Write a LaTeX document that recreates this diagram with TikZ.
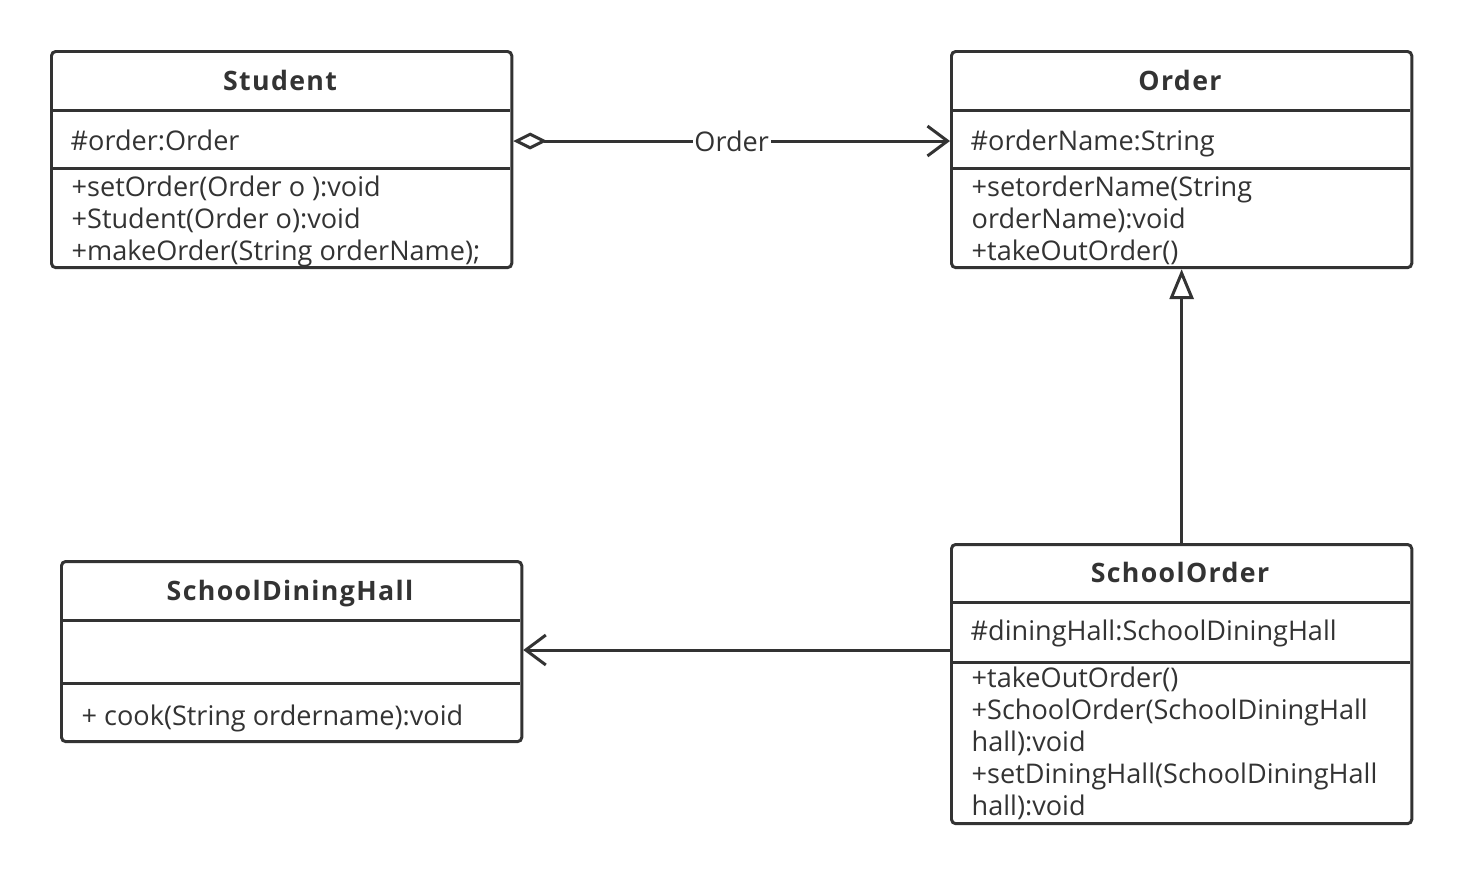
\documentclass[tikz,border=0pt]{standalone}
\usepackage{fontspec}
\setmainfont{Open Sans}
\newfontfamily\titlefont[LetterSpace=5]{Open Sans}
\usetikzlibrary{arrows.meta}

\definecolor{umlline}{HTML}{333333}

\tikzset{
  classbox/.style={draw=umlline, line width=0.85pt, rounded corners=1.2pt,
    inner sep=0pt, anchor=north west},
  divider/.style={draw=umlline, line width=0.85pt},
  classname/.style={font=\titlefont\bfseries\fontsize{7.6}{9}\selectfont,
    text=umlline, anchor=base, inner sep=0pt},
  member/.style={font=\fontsize{7.7}{9}\selectfont, text=umlline,
    anchor=base west, inner sep=0pt},
  link/.style={draw=umlline, line width=0.85pt},
}

\begin{document}
\begin{tikzpicture}[x=0.01cm, y=-0.01cm]
  \fill[white] (0,0) rectangle (1460,872);
  \useasboundingbox (0,0) rectangle (1460,872);

  % Student
  \node[classbox, minimum width=4.6cm, minimum height=2.16cm] (student) at (50,50) {};
  \draw[divider] (50,110) -- (510,110);
  \draw[divider] (50,168) -- (510,168);
  \node[classname] (student-name) at (280,90) {Student};
  \node[member] (student-attr) at (70,150) {\#order:Order};
  \foreach \txt [count=\i] in {+setOrder(Order o ):void, +Student(Order o):void,
      +makeOrder(String orderName);}
    \node[member] (student-op\i) at (71,196+32*\i-32) {\txt};

  % Order
  \node[classbox, minimum width=4.6cm, minimum height=2.16cm] (order) at (950,50) {};
  \draw[divider] (950,110) -- (1410,110);
  \draw[divider] (950,168) -- (1410,168);
  \node[classname] (order-name) at (1180,90) {Order};
  \node[member] (order-attr) at (970,150) {\#orderName:String};
  \foreach \txt [count=\i] in {+setorderName(String, orderName):void, +takeOutOrder()}
    \node[member] (order-op\i) at (971,196+32*\i-32) {\txt};

  % SchoolDiningHall
  \node[classbox, minimum width=4.6cm, minimum height=1.8cm] (hall) at (60,560) {};
  \draw[divider] (60,620) -- (520,620);
  \draw[divider] (60,683) -- (520,683);
  \node[classname] (hall-name) at (290,600) {SchoolDiningHall};
  \node[member] (hall-op1) at (81,725) {+ cook(String ordername):void};

  % SchoolOrder
  \node[classbox, minimum width=4.6cm, minimum height=2.79cm] (schoolorder) at (950,543) {};
  \draw[divider] (950,602) -- (1410,602);
  \draw[divider] (950,662) -- (1410,662);
  \node[classname] (schoolorder-name) at (1180,582) {SchoolOrder};
  \node[member] (schoolorder-attr) at (970,640) {\#diningHall:SchoolDiningHall};
  \foreach \txt [count=\i] in {+takeOutOrder(), +SchoolOrder(SchoolDiningHall,
      hall):void, +setDiningHall(SchoolDiningHall, hall):void}
    \node[member] (schoolorder-op\i) at (971,687+32*\i-32) {\txt};

  % relations
  \draw[link, {Diamond[open, length=9.6pt, width=4.8pt]}-{Straight Barb[length=5.7pt, width=8.5pt]}]
    (student.east |- 0,141) -- node[fill=white, inner sep=0.5pt,
    font=\fontsize{7.7}{9}\selectfont, text=umlline] (aggr-label) {Order}
    (order.west |- 0,141);
  \draw[link, -{Triangle[open, length=8.5pt, width=6.8pt]}]
    (schoolorder.north) -- (order.south);
  \draw[link, -{Straight Barb[length=5.7pt, width=8.5pt]}]
    (schoolorder.west |- 0,650) -- (hall.east |- 0,650);
\end{tikzpicture}
\end{document}
